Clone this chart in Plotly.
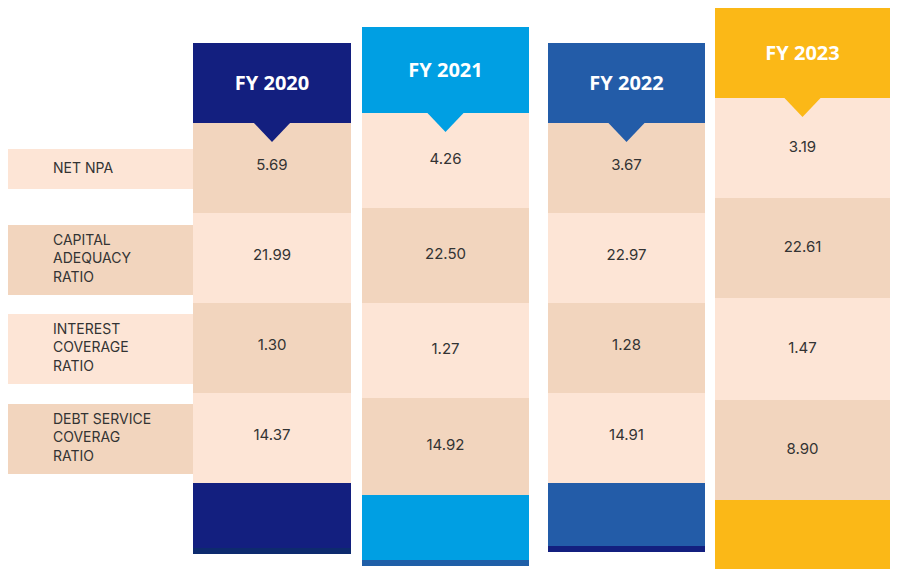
import plotly.graph_objects as go

years = ["FY 2020", "FY 2021", "FY 2022", "FY 2023"]
metrics = ["NET NPA", "CAPITAL<br>ADEQUACY<br>RATIO", "INTEREST<br>COVERAGE<br>RATIO",
           "DEBT SERVICE<br>COVERAG<br>RATIO"]
fy2020 = [5.69, 21.99, 1.30, 14.37]
fy2021 = [4.26, 22.50, 1.27, 14.92]
fy2022 = [3.67, 22.97, 1.28, 14.91]
fy2023 = [3.19, 22.61, 1.47, 8.90]
values = [fy2020, fy2021, fy2022, fy2023]

# layout geometry (pixel space, y down)
col_x = [(185, 343), (354, 521), (540, 697), (707, 882)]
head_top = [35, 19, 35, 0]
row_edges = [[115, 205, 295, 385, 475], [105, 200, 295, 390, 487],
             [115, 205, 295, 385, 475], [90, 190, 290, 392, 492]]
foot_bottom = [540, 552, 538, 562]
head_color = ["#131f7f", "#009fe3", "#235ca8", "#fbb817"]
strip_color = ["#0d2a6e", "#1f5fa8", "#131f7f", "#c87a1a"]
first_dark = [True, False, True, False]
label_box = [(141, 181), (217, 287), (306, 376), (396, 466)]
LIGHT, DARK = "#fde5d6", "#f2d5be"

shapes = []
def rect(x0, y0, x1, y1, c):
    shapes.append(dict(type="rect", x0=x0, x1=x1, y0=y0, y1=y1, fillcolor=c,
                       line=dict(width=0), layer="below"))

for i, (y0, y1) in enumerate(label_box):
    rect(0, y0, 185, y1, LIGHT if i % 2 == 0 else DARK)

fig = go.Figure()
for c in range(4):
    x0, x1 = col_x[c]
    e = row_edges[c]
    for r in range(4):
        dark = (r % 2 == 0) == first_dark[c]
        rect(x0, e[r], x1, e[r + 1], DARK if dark else LIGHT)
    rect(x0, head_top[c], x1, e[0], head_color[c])
    rect(x0, e[4], x1, foot_bottom[c], head_color[c])
    rect(x0, foot_bottom[c], x1, foot_bottom[c] + 6, strip_color[c])
    xm = (x0 + x1) / 2
    shapes.append(dict(type="path", path=f"M {xm-19},{e[0]-1} L {xm+19},{e[0]-1} L {xm},{e[0]+19} Z",
                       fillcolor=head_color[c], line=dict(width=0), layer="below"))
    mids = [(e[r] + e[r + 1]) / 2 for r in range(4)]
    if c == 0 or c == 2:
        mids = [m - 2 for m in mids]
    fig.add_trace(go.Scatter(x=[xm] * 4, y=mids, mode="text",
                             text=[f"{v:.2f}" for v in values[c]],
                             textfont=dict(family="Inter", size=15, color="#333333"),
                             hoverinfo="skip", showlegend=False))
    fig.add_trace(go.Scatter(x=[xm], y=[(head_top[c] + e[0]) / 2 + 2], mode="text",
                             text=[f"<b>{years[c]}</b>"],
                             textfont=dict(family="Open Sans", size=20, color="white"),
                             hoverinfo="skip", showlegend=False))

label_y = [(a + b) / 2 for a, b in label_box]
fig.add_trace(go.Scatter(x=[45] * 4, y=label_y, mode="text", text=metrics,
                         textposition="middle right",
                         textfont=dict(family="Inter", size=14, color="#333333"),
                         hoverinfo="skip", showlegend=False))

fig.update_layout(width=901, height=569, margin=dict(l=0, r=0, t=0, b=0),
                  paper_bgcolor="white", plot_bgcolor="white", shapes=shapes)
fig.update_xaxes(range=[0, 901], visible=False, fixedrange=True)
fig.update_yaxes(range=[569, 0], visible=False, fixedrange=True)
fig.write_html("out.html")
